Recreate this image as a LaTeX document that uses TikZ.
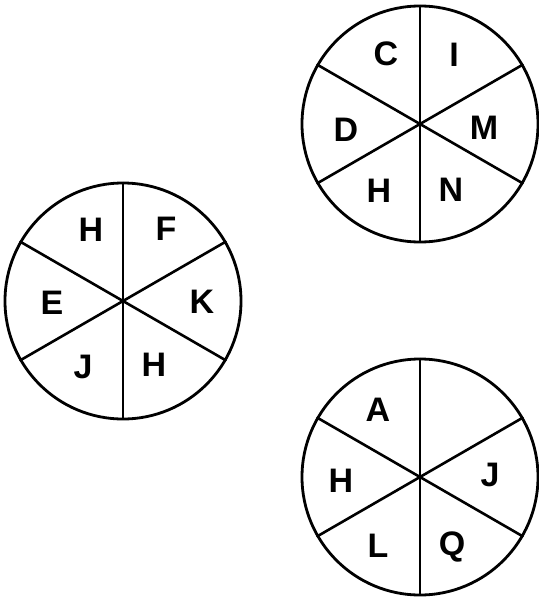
\documentclass[tikz,border=0pt]{standalone}
\usepackage{fontspec}
\setmainfont{Liberation Sans}
\begin{document}
\begin{tikzpicture}[x=1pt,y=-1pt,
  wheel/.style={draw,line width=2.8pt,circle,minimum size=236pt,inner sep=0pt},
  spoke/.style={line width=2.6pt},
  lett/.style={font=\fontsize{34}{34}\selectfont\bfseries,inner sep=0pt}]
\useasboundingbox (0,0) rectangle (538,599);
% top-right wheel
\node[wheel] (A) at (420,124) {};
\draw[spoke] (A.90) -- (A.270);
\draw[spoke] (A.150) -- (A.330);
\draw[spoke] (A.210) -- (A.30);
\node[lett] (a1) at (386,54) {C};
\node[lett] (a2) at (454,55) {I};
\node[lett] (a3) at (346,130) {D};
\node[lett] (a4) at (484,128) {M};
\node[lett] (a5) at (379,191) {H};
\node[lett] (a6) at (451,190) {N};
% left wheel
\node[wheel] (B) at (123,301) {};
\draw[spoke] (B.90) -- (B.270);
\draw[spoke] (B.150) -- (B.330);
\draw[spoke] (B.210) -- (B.30);
\node[lett] (b1) at (91,230) {H};
\node[lett] (b2) at (166,229) {F};
\node[lett] (b3) at (52,303) {E};
\node[lett] (b4) at (202,302) {K};
\node[lett] (b5) at (83,367) {J};
\node[lett] (b6) at (154,365) {H};
% bottom-right wheel
\node[wheel] (C) at (420,477) {};
\draw[spoke] (C.90) -- (C.270);
\draw[spoke] (C.150) -- (C.330);
\draw[spoke] (C.210) -- (C.30);
\node[lett] (c1) at (378,410) {A};
\node[lett] (c2) at (341,481) {H};
\node[lett] (c3) at (490,475) {J};
\node[lett] (c4) at (378,546) {L};
\node[lett] (c5) at (452,547) {Q};
\end{tikzpicture}
\end{document}
